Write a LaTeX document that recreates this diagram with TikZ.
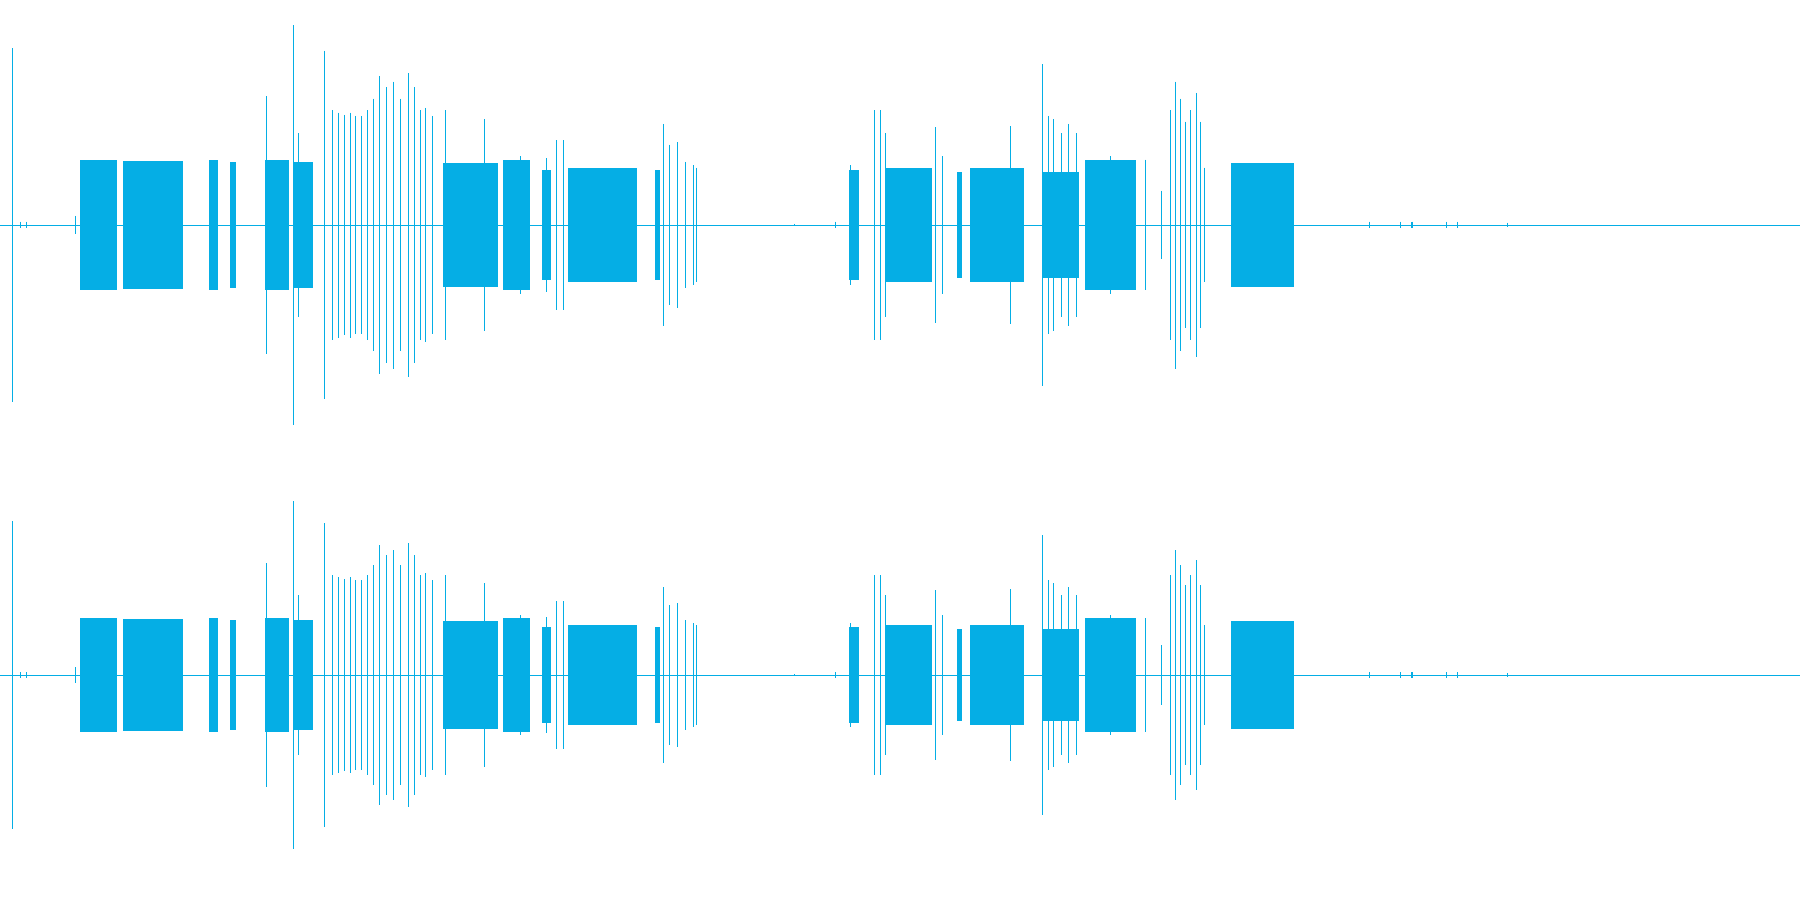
\documentclass[tikz,border=0pt]{standalone}
\definecolor{wavecyan}{RGB}{5,174,229}
\tikzset{
  spike/.style={draw=wavecyan, line width=0.25pt},
  burst/.style={fill=wavecyan},
}
% one channel: centre line and scale of amplitude
\newcommand{\channel}[2]{%
  \draw[spike] (0,#1) -- (1568,#1);
  \foreach \a/\b/\h in {70/102/57, 107/159/56, 182/190/57, 200/206/55,
      231/252/57, 256/273/55, 386/434/54, 438/462/57, 472/480/48,
      495/555/50, 571/575/48, 740/748/48, 771/812/50, 834/838/46,
      845/892/50, 908/940/46, 945/990/57, 1072/1127/54}
    \fill[burst] ({\a},{#1-\h*#2}) rectangle ({\b},{#1+\h*#2});
  \foreach \x/\h in {11/154, 18/3, 23/3, 66/8, 232/112, 256/174, 260/80,
      283/152, 290/100, 295/98, 300/96, 305/98, 310/95, 315/95, 320/100,
      325/110, 331/130, 337/120, 343/125, 349/110, 356/132, 361/120,
      366/100, 371/102, 377/95, 388/100, 422/92, 453/60, 476/58, 485/74,
      491/74, 578/88, 583/70, 590/72, 597/55, 604/52, 607/50, 692/1,
      728/3, 741/52, 762/100, 767/100, 771/80, 815/85, 821/60, 836/40,
      880/86, 908/140, 913/95, 918/92, 925/80, 931/88, 938/80, 967/60,
      998/57, 1012/30, 1020/100, 1024/125, 1028/110, 1033/90, 1037/100,
      1042/115, 1046/90, 1049/50, 1193/3, 1220/3, 1230/3, 1260/3,
      1270/3, 1313/2}
    \draw[spike] ({\x},{#1-\h*#2}) -- ({\x},{#1+\h*#2});
}
\begin{document}
\begin{tikzpicture}[x=0.1mm, y=-0.1mm]
  \useasboundingbox (0,0) rectangle (1568,784);
  \fill[white] (0,0) rectangle (1568,784);

  \channel{196}{1}
  \channel{588}{0.87}
\end{tikzpicture}
\end{document}
